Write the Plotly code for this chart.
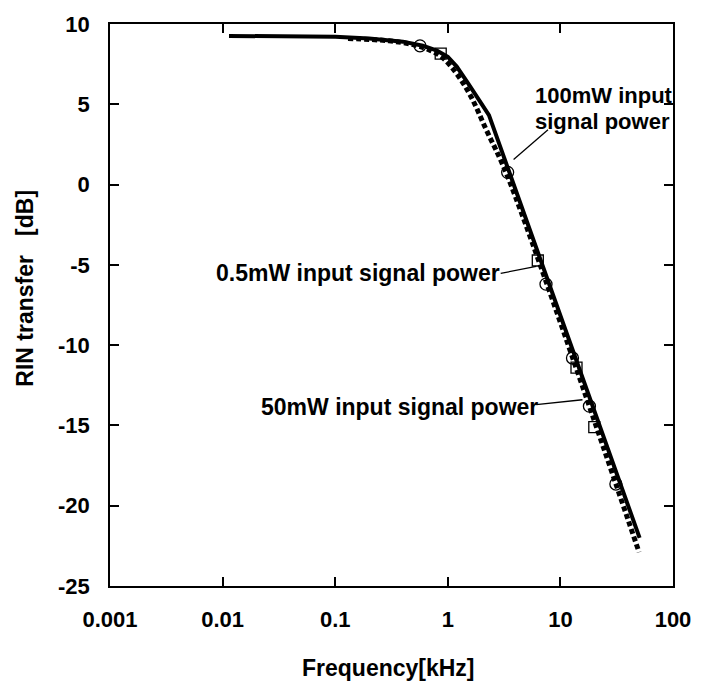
import plotly.graph_objects as go

# 100mW input signal power (solid)
f_solid = [0.0114, 0.05, 0.1, 0.2, 0.4, 0.6, 0.8, 1.0, 1.2, 1.5, 1.9, 2.32, 50.5]
rin_solid = [9.26, 9.25, 9.2, 9.1, 8.9, 8.65, 8.35, 7.95, 7.35, 6.35, 5.25, 4.33, -22.0]

# 0.5mW / 50mW input signal power (thick dashed)
f_dash = [0.13, 0.3, 0.5, 0.7, 0.9, 1.2, 1.6, 2.2, 3.4, 50.0]
rin_dash = [9.1, 8.95, 8.7, 8.35, 7.9, 6.9, 5.5, 3.4, 0.5, -22.9]

# measured points
f_circ = [0.566, 3.4, 7.45, 12.8, 18.1, 31.1]
rin_circ = [8.64, 0.76, -6.2, -10.8, -13.8, -18.65]
f_sq = [0.865, 6.3, 13.9, 20.0]
rin_sq = [8.15, -4.73, -11.4, -15.1]

x_tickvals = [0.001, 0.01, 0.1, 1, 10, 100]
x_ticktext = ["0.001", "0.01", "0.1", "1", "10", "100"]
y_tickvals = [-25, -20, -15, -10, -5, 0, 5, 10]

FONT = "Liberation Sans, Arial, sans-serif"

fig = go.Figure()
fig.add_trace(go.Scatter(x=f_dash, y=rin_dash, mode="lines",
                         line=dict(color="black", width=5, dash="5px,3px"),
                         line_shape="spline", showlegend=False))
fig.add_trace(go.Scatter(x=f_solid, y=rin_solid, mode="lines",
                         line=dict(color="black", width=4),
                         line_shape="linear", showlegend=False))
fig.add_trace(go.Scatter(x=f_circ, y=rin_circ, mode="markers",
                         marker=dict(symbol="circle-open", size=12, color="black",
                                     line=dict(width=1.3)), showlegend=False))
fig.add_trace(go.Scatter(x=f_sq, y=rin_sq, mode="markers",
                         marker=dict(symbol="square-open", size=11, color="black",
                                     line=dict(width=1.3)), showlegend=False))

# leader lines for labels
leaders = [
    ([7.76, 3.84], [3.41, 1.56]),
    ([2.95, 6.1], [-5.53, -5.1]),
    ([6.1, 15.7], [-13.7, -13.4]),
]
for lx, ly in leaders:
    fig.add_trace(go.Scatter(x=lx, y=ly, mode="lines",
                             line=dict(color="black", width=1.3), showlegend=False,
                             hoverinfo="skip"))

ann_font = dict(family=FONT, size=23, color="black")
ann_font_small = dict(family=FONT, size=22, color="black")
annotations = [
    dict(x=0.76, y=5.56, xref="x", yref="y", text="<b>100mW input</b>",
         xanchor="left", yanchor="middle", showarrow=False, font=ann_font_small),
    dict(x=0.76, y=3.9, xref="x", yref="y", text="<b>signal power</b>",
         xanchor="left", yanchor="middle", showarrow=False, font=ann_font_small),
    dict(x=0.48, y=-5.53, xref="x", yref="y", text="<b>0.5mW input signal power</b>",
         xanchor="right", yanchor="middle", showarrow=False, font=ann_font),
    dict(x=0.82, y=-13.85, xref="x", yref="y", text="<b>50mW input signal power</b>",
         xanchor="right", yanchor="middle", showarrow=False, font=ann_font),
    dict(x=-0.150, y=0.530, xref="paper", yref="paper", text="<b>RIN transfer   [dB]</b>",
         textangle=-90, xanchor="center", yanchor="middle", showarrow=False,
         font=dict(family=FONT, size=23, color="black")),
    dict(x=0.494, y=-0.146, xref="paper", yref="paper", text="<b>Frequency[kHz]</b>",
         xanchor="center", yanchor="middle", showarrow=False,
         font=dict(family=FONT, size=23, color="black")),
]

fig.update_layout(
    width=703, height=684,
    margin=dict(l=110, r=21, t=18, b=98),
    paper_bgcolor="white", plot_bgcolor="white",
    annotations=annotations,
    showlegend=False,
    font=dict(family=FONT, color="black"),
)
fig.update_xaxes(type="log", range=[-3, 2], tickvals=x_tickvals, ticktext=[f"<b>{t}</b>" for t in x_ticktext],
                 showgrid=False, zeroline=False, showline=True, linecolor="black", linewidth=1.5,
                 mirror="ticks", ticks="inside", ticklen=9, tickwidth=1.5, tickcolor="black",
                 tickfont=dict(family=FONT, size=22, color="black"), ticklabelstandoff=13)
fig.update_yaxes(range=[-25, 10], tickvals=y_tickvals, ticktext=[f"<b>{v}</b>" for v in y_tickvals],
                 showgrid=False, zeroline=False, showline=True, linecolor="black", linewidth=1.5,
                 mirror="ticks", ticks="inside", ticklen=9, tickwidth=1.5, tickcolor="black",
                 tickfont=dict(family=FONT, size=22, color="black"), ticklabelstandoff=14)

fig.write_html("out.html")
